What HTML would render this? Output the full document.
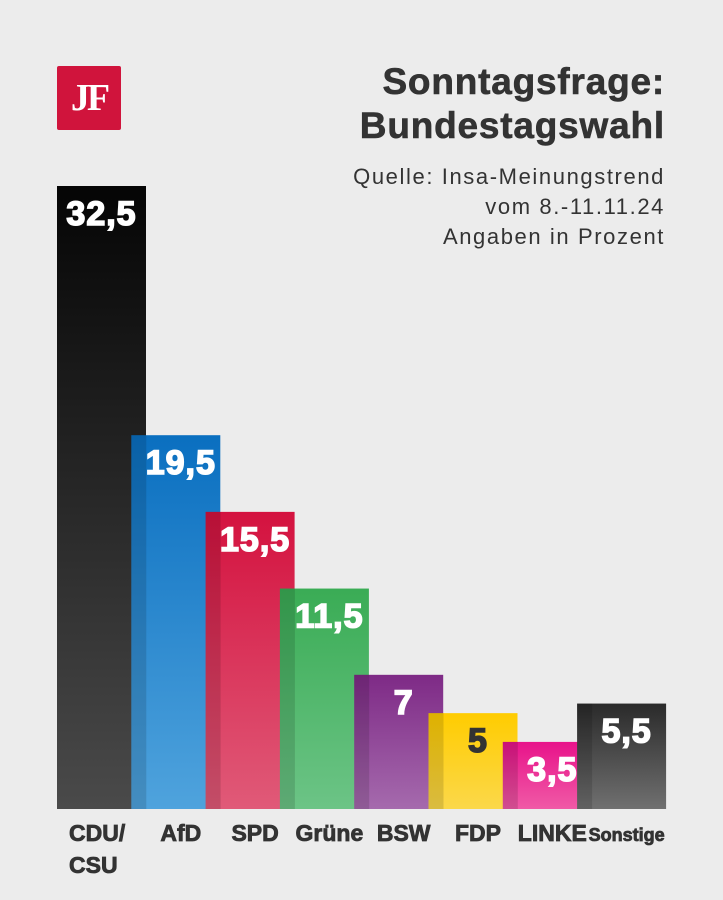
<!DOCTYPE html>
<html><head><meta charset="utf-8"><style>
body{margin:0;background:#ececec;}
#wrap{position:relative;width:723px;height:900px;background:#ececec;font-family:"Liberation Sans",sans-serif;overflow:hidden}
.t{position:absolute;right:58px;text-align:right;color:#333;white-space:nowrap}
</style></head><body>
<div id="wrap">
<div style="position:absolute;left:57px;top:66px;width:64px;height:64px;background:#d0143c;border-radius:2px;color:#fff;font-family:'Liberation Serif',serif;font-size:38px;font-weight:bold;line-height:64px;text-align:center;letter-spacing:-3px">JF</div>
<div class="t" style="top:60px;font-size:37px;font-weight:bold;line-height:44px;letter-spacing:0.8px;-webkit-text-stroke:0.6px #333">Sonntagsfrage:<br>Bundestagswahl</div>
<div class="t" style="top:162px;font-size:22px;line-height:30px;letter-spacing:1.6px">Quelle: Insa-Meinungstrend<br>vom 8.-11.11.24<br>Angaben in Prozent</div>
<svg id="chart" width="723" height="900" style="position:absolute;left:0;top:0"></svg>
</div>
<script>
const categories=["CDU/\nCSU","AfD","SPD","Grüne","BSW","FDP","LINKE","Sonstige"];
const values=[32.5,19.5,15.5,11.5,7,5,3.5,5.5];
const valueLabels=["32,5","19,5","15,5","11,5","7","5","3,5","5,5"];
const topColors=["#050505","#0a6fc0","#d4123f","#3aac55","#7e2a86","#ffcc00","#e8138a","#2a2a2a"];
const bottomColors=["#4a4a4a","#4fa3dd","#e05a78","#6cc486","#a56aad","#fbd84a","#f05aa6","#707070"];
const NS="http://www.w3.org/2000/svg";
const svg=document.getElementById('chart');
const baseY=809,scale=623/32.5,x0=57,step=74.3,bw=89;
const yPos=v=>baseY-v*scale;
const xPos=i=>x0+i*step;
const defs=document.createElementNS(NS,'defs');svg.appendChild(defs);
values.forEach((v,i)=>{
  const g=document.createElementNS(NS,'linearGradient');
  g.setAttribute('id','g'+i);g.setAttribute('x1',0);g.setAttribute('y1',0);g.setAttribute('x2',0);g.setAttribute('y2',1);
  g.innerHTML='<stop offset="0" stop-color="'+topColors[i]+'"/><stop offset="1" stop-color="'+bottomColors[i]+'"/>';
  defs.appendChild(g);
});
values.forEach((v,i)=>{
  const x=xPos(i),y=yPos(v);
  const r=document.createElementNS(NS,'rect');
  
  
  r.setAttribute('x',x);r.setAttribute('y',y);r.setAttribute('width',bw);r.setAttribute('height',baseY-y);
  r.setAttribute('fill','url(#g'+i+')');svg.appendChild(r);
  if(i>0){
    const s=document.createElementNS(NS,'rect');
    
    
    s.setAttribute('x',x);s.setAttribute('y',y);s.setAttribute('width',15);s.setAttribute('height',baseY-y);
    s.setAttribute('fill','rgba(0,0,0,0.13)');svg.appendChild(s);
  }
  const t=document.createElementNS(NS,'text');
  
  
  t.setAttribute('x',x+bw/2+(i>0?5:0));t.setAttribute('y',y+39);t.setAttribute('text-anchor','middle');
  t.setAttribute('font-size','34');t.setAttribute('font-weight','bold');t.setAttribute('font-family','Liberation Sans, sans-serif');
  t.setAttribute('letter-spacing','1');
  const fc=i===5?'#333':'#fff';
  t.setAttribute('fill',fc);t.setAttribute('stroke',fc);t.setAttribute('stroke-width','1.6');
  t.textContent=valueLabels[i];svg.appendChild(t);
  const lines=categories[i].split('\n');
  lines.forEach((ln,k)=>{
    const c=document.createElementNS(NS,'text');
    
    
    c.setAttribute('x',i===0?x+12:x+bw/2+5);c.setAttribute('y',841+k*32);
    c.setAttribute('text-anchor',i===0?'start':'middle');
    c.setAttribute('font-size',i===7?'18':'23');c.setAttribute('font-weight','bold');
    c.setAttribute('font-family','Liberation Sans, sans-serif');c.setAttribute('fill','#333');
    c.setAttribute('stroke','#333');c.setAttribute('stroke-width','0.8');
    c.textContent=ln;svg.appendChild(c);
  });
});
</script>
</body></html>
